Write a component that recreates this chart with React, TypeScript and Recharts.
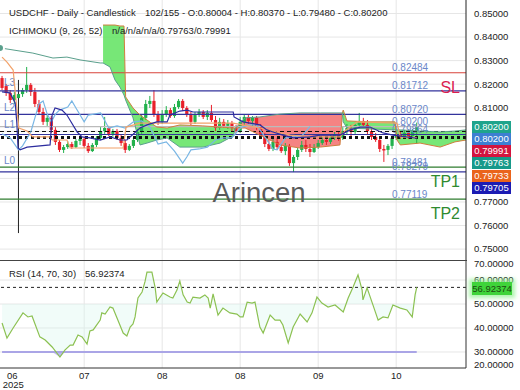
import {
  Area,
  Bar,
  CartesianGrid,
  ComposedChart,
  Line,
  ReferenceLine,
  XAxis,
  YAxis,
} from "recharts";

type Ohlc = [number, number, number, number];
type Pt = [number, number];
type CloudPt = [number, number, number];

const FONT = '"Liberation Sans", Arial, sans-serif';

// open, high, low, close per session
const candlesJunJul: Ohlc[] = [
  [0.8226, 0.8235, 0.8175, 0.8184], [0.8192, 0.8201, 0.815, 0.8163],
  [0.8163, 0.8175, 0.812, 0.8133], [0.8133, 0.8167, 0.8116, 0.8154],
  [0.8141, 0.8218, 0.7568, 0.8158], [0.8158, 0.8184, 0.8146, 0.8175],
  [0.8175, 0.8273, 0.8163, 0.8197], [0.8197, 0.8205, 0.815, 0.8167],
  [0.8167, 0.8184, 0.8103, 0.8116], [0.8116, 0.8133, 0.8069, 0.8082],
  [0.8082, 0.8099, 0.8027, 0.804], [0.804, 0.8069, 0.8023, 0.8057],
  [0.8057, 0.8065, 0.7993, 0.8006], [0.8006, 0.8018, 0.7942, 0.7955],
  [0.7955, 0.7963, 0.7912, 0.7921], [0.7921, 0.7942, 0.7908, 0.7933],
  [0.7933, 0.7959, 0.7925, 0.7946], [0.7946, 0.7955, 0.7925, 0.7933],
  [0.7933, 0.7967, 0.7929, 0.7959], [0.7959, 0.798, 0.7942, 0.7967],
  [0.7967, 0.7976, 0.7929, 0.7938], [0.7938, 0.795, 0.7908, 0.7916],
  [0.7916, 0.795, 0.7912, 0.7942], [0.7942, 0.798, 0.7933, 0.7972],
  [0.7972, 0.8018, 0.7963, 0.8001], [0.8001, 0.8061, 0.7989, 0.8014],
  [0.8014, 0.8023, 0.798, 0.7989], [0.7989, 0.801, 0.7976, 0.8001],
  [0.8001, 0.801, 0.7963, 0.7972], [0.7972, 0.7984, 0.7938, 0.795],
  [0.795, 0.7963, 0.7908, 0.7921], [0.7921, 0.7946, 0.7916, 0.7938],
  [0.7938, 0.7972, 0.7929, 0.7963], [0.7963, 0.801, 0.7955, 0.7997],
];
const candlesJulAug: Ohlc[] = [
  [0.7997, 0.8073, 0.7989, 0.8057], [0.8057, 0.8133, 0.8048, 0.8116],
  [0.8116, 0.815, 0.8099, 0.8129], [0.8129, 0.8175, 0.8061, 0.8073],
  [0.8073, 0.8086, 0.8027, 0.804], [0.804, 0.809, 0.8031, 0.8073],
  [0.8073, 0.8107, 0.8061, 0.809], [0.809, 0.8099, 0.8057, 0.8065],
  [0.8065, 0.8116, 0.8057, 0.8103], [0.8103, 0.8137, 0.8095, 0.8129],
  [0.8129, 0.8137, 0.8086, 0.8099], [0.8099, 0.8107, 0.8061, 0.8069],
  [0.8069, 0.8082, 0.8027, 0.804], [0.804, 0.8082, 0.8031, 0.8069],
  [0.8069, 0.8095, 0.8061, 0.8082], [0.8082, 0.809, 0.8052, 0.8061],
  [0.8061, 0.809, 0.8048, 0.8078], [0.8078, 0.8112, 0.804, 0.8048],
  [0.8048, 0.8065, 0.8001, 0.8014], [0.8014, 0.8057, 0.8006, 0.804],
  [0.804, 0.8052, 0.8014, 0.8023], [0.8023, 0.8048, 0.801, 0.8035],
  [0.8035, 0.8044, 0.8001, 0.8014], [0.8014, 0.8027, 0.7993, 0.8001],
  [0.8001, 0.8061, 0.7993, 0.804], [0.804, 0.8073, 0.8027, 0.8061],
  [0.8061, 0.8069, 0.8031, 0.8044], [0.8044, 0.8065, 0.8023, 0.8057],
  [0.8057, 0.8065, 0.8006, 0.8018], [0.8018, 0.8031, 0.7967, 0.798],
  [0.798, 0.7993, 0.7933, 0.7946], [0.7946, 0.7963, 0.7916, 0.7925],
  [0.7925, 0.7967, 0.7916, 0.7955], [0.7955, 0.7972, 0.7921, 0.7933],
];
const candlesAugOct: Ohlc[] = [
  [0.7933, 0.7946, 0.7908, 0.7916], [0.7916, 0.795, 0.7899, 0.7938],
  [0.7938, 0.7946, 0.7853, 0.7865], [0.7865, 0.7899, 0.7827, 0.7891],
  [0.7891, 0.7929, 0.7878, 0.7921], [0.7921, 0.7959, 0.7912, 0.7942],
  [0.7942, 0.7963, 0.7912, 0.7925], [0.7925, 0.7946, 0.7891, 0.7912],
  [0.7912, 0.7946, 0.7908, 0.7933], [0.7933, 0.7963, 0.7925, 0.795],
  [0.795, 0.7976, 0.7942, 0.7963], [0.7963, 0.7976, 0.7942, 0.7955],
  [0.7955, 0.7984, 0.7946, 0.7972], [0.7972, 0.7997, 0.7963, 0.7984],
  [0.7984, 0.8001, 0.7959, 0.7972], [0.7972, 0.8018, 0.7963, 0.8001],
  [0.8001, 0.8031, 0.7984, 0.8014], [0.8014, 0.8027, 0.7976, 0.7997],
  [0.7997, 0.8035, 0.7989, 0.8027], [0.8027, 0.8078, 0.8014, 0.8044],
  [0.8044, 0.8057, 0.8018, 0.8027], [0.8027, 0.8048, 0.7984, 0.8001],
  [0.8001, 0.8014, 0.7963, 0.7976], [0.7976, 0.7993, 0.7955, 0.7963],
  [0.7963, 0.7972, 0.7912, 0.7925], [0.7925, 0.7942, 0.787, 0.7921],
  [0.7921, 0.7946, 0.7899, 0.7938], [0.7938, 0.798, 0.7925, 0.7972],
  [0.7972, 0.7997, 0.7963, 0.7989], [0.7989, 0.8001, 0.7967, 0.7976],
  [0.7976, 0.8006, 0.7967, 0.7993], [0.7993, 0.8006, 0.7967, 0.798],
  [0.798, 0.801, 0.7972, 0.8], [0.80004, 0.8037, 0.7948, 0.802],
];

// ichimoku lines, [bar index, price]
const tenkanPts: Pt[] = [
  [0, 0.8167], [1.9, 0.8163], [3.2, 0.812], [3.6, 0.8035], [3.9, 0.7929],
  [4.4, 0.7921], [6.1, 0.7933], [11.7, 0.7942], [12.2, 0.8069], [12.9, 0.8099],
  [14.6, 0.809], [15.8, 0.8069], [18.3, 0.7997], [19.5, 0.7976], [21.4, 0.7972],
  [23.9, 0.7963], [26.3, 0.7976], [28.7, 0.7963], [30.4, 0.7963], [33.6, 0.8014],
  [35.3, 0.8027], [37.7, 0.804], [40.2, 0.804], [40.9, 0.8069], [43.3, 0.8086],
  [45.1, 0.809], [46.5, 0.8082], [56.3, 0.8082], [56.5, 0.8061], [58.7, 0.804],
  [60.4, 0.8035], [62.8, 0.8027], [64.5, 0.8006], [66, 0.7997], [68.4, 0.7984],
  [70.9, 0.7972], [75, 0.7976], [77.5, 0.7984], [82.3, 0.7984], [84.8, 0.8006],
  [87.2, 0.8018], [89.6, 0.8018], [92.8, 0.7993], [95.2, 0.7984], [101, 0.79705],
];
const kijunPts: Pt[] = [
  [0, 0.8315], [1.2, 0.8294], [2.7, 0.826], [3.4, 0.8133], [4.1, 0.8014],
  [6.1, 0.8001], [7.5, 0.7976], [11.7, 0.7976], [12.2, 0.7963], [15.8, 0.7963],
  [16.6, 0.7929], [29.5, 0.7929], [30.2, 0.8018], [33.6, 0.8035], [56.3, 0.8035],
  [62.8, 0.8014], [70.2, 0.7984], [75, 0.7976], [82.3, 0.7976], [83.5, 0.8001],
  [86.5, 0.804], [96.2, 0.8035], [97, 0.7976], [101, 0.79733],
];
const chikouPts: Pt[] = [
  [0, 0.7989], [2, 0.7972], [4, 0.7921], [5, 0.7938], [7, 0.7997], [8, 0.8057],
  [9, 0.8116], [10, 0.8129], [11, 0.8073], [12, 0.804], [13, 0.8073], [14, 0.809],
  [16, 0.8103], [17, 0.8129], [18, 0.8099], [20, 0.804], [21, 0.8069], [24, 0.8078],
  [26, 0.8014], [28, 0.8023], [30, 0.8014], [32, 0.804], [34, 0.8044], [36, 0.8018],
  [38, 0.7946], [40, 0.7955], [42, 0.7916], [44, 0.7865], [45, 0.7891], [46, 0.7921],
  [48, 0.7925], [50, 0.7933], [52, 0.7963], [54, 0.7972], [56, 0.7972], [58, 0.8014],
  [60, 0.8027], [62, 0.8027], [64, 0.7976], [66, 0.7925], [67, 0.7921], [69, 0.7972],
  [71, 0.7976], [73, 0.798], [75, 0.802],
];
const spanBLead: Pt[] = [
  [-0.5, 0.8354], [7.5, 0.8332], [12.4, 0.8311], [15.8, 0.8315], [19, 0.8303],
  [23.9, 0.829],
];
// cloud, [bar index, span A, span B]
const cloudGreenEarly: CloudPt[] = [
  [24.6, 0.8451, 0.829], [26.3, 0.8451, 0.8273], [27.5, 0.8451, 0.8218],
  [28.7, 0.8447, 0.8188], [29.7, 0.8447, 0.8154], [30.1, 0.8146, 0.8133],
  [31.9, 0.8099, 0.8057], [33.6, 0.8069, 0.7942], [35.3, 0.8048, 0.795],
  [37.7, 0.8018, 0.7963], [40.2, 0.8014, 0.7972], [43.3, 0.8027, 0.7933],
  [48.9, 0.8023, 0.7933], [53.1, 0.8018, 0.795], [56.3, 0.8014, 0.798],
  [56.9, 0.8014, 0.8014],
];
const cloudRed: CloudPt[] = [
  [56.9, 0.8014, 0.8014], [59.2, 0.8014, 0.8057], [62.8, 0.7984, 0.8061],
  [67.7, 0.7942, 0.8073], [72.6, 0.7929, 0.8078], [77.5, 0.7933, 0.8078],
  [82.3, 0.7942, 0.8078], [82.9, 0.8078, 0.8078],
];
const cloudGreenLate: CloudPt[] = [
  [82.9, 0.8078, 0.8078], [83.1, 0.809, 0.804], [84, 0.8044, 0.8014],
  [89.6, 0.804, 0.801], [95.7, 0.804, 0.8006], [96.2, 0.7963, 0.8006],
  [97, 0.7942, 0.8006], [101.8, 0.795, 0.8001], [106.7, 0.7933, 0.7997],
  [110.3, 0.7955, 0.8001], [113, 0.7963, 0.8006],
];

// RSI(14), [bar index, value]
const rsiPts: Pt[] = [
  [0, 42.1], [1.2, 35.8], [2.7, 40], [5.1, 46.3], [6.3, 44.6], [7.3, 45],
  [9.2, 36.3], [10.5, 35], [12.2, 32.1], [14.1, 27.9], [15.3, 30.8], [16.6, 32.9],
  [17.3, 32.9], [18.5, 37.1], [19.5, 36.3], [20.7, 33.3], [21.4, 38.8], [22.2, 39.2],
  [23.9, 43.3], [24.3, 46.3], [25.1, 45.8], [26.3, 48.8], [27, 48.3], [28.2, 43.3],
  [29.5, 37.9], [30.4, 36.7], [31.2, 40.4], [31.9, 41.7], [32.4, 44.6], [33.1, 52.5],
  [34.1, 55], [34.8, 59.2], [35.3, 63.3], [36.5, 63.3], [37.3, 56.7], [37.7, 50.8],
  [38.5, 52.9], [39.2, 54.6], [40.9, 52.9], [41.6, 52.5], [42.6, 55.8], [43.3, 59.6],
  [44.1, 53.8], [45.1, 50.8], [45.8, 50.4], [46.5, 52.9], [48.2, 52.5], [49.4, 53.8],
  [50.2, 52.5], [50.7, 48.3], [51.4, 54.2], [52.6, 45.4], [53.8, 48.3], [55.5, 46.3],
  [57.2, 45.8], [58, 44.6], [58.7, 44.6], [59.7, 50.8], [60.9, 50.4], [61.6, 50.8],
  [62.8, 40.4], [63.6, 37.9], [65.3, 45.4], [66.5, 43.3], [67.7, 43.3], [68.4, 41.25],
  [69.7, 33.75], [70.9, 40.4], [72.6, 45.8], [74.3, 42.5], [75.5, 46.3], [76.7, 52.9],
  [77.9, 50.4], [79.4, 48.75], [81.1, 49.6], [83.1, 46.7], [84.3, 52.5], [85.5, 57.1],
  [86.7, 62.1], [87.7, 55.8], [87.9, 51.7], [88.9, 56.7], [90.1, 50.8], [91.6, 43.3],
  [92.8, 44.6], [94, 44.2], [95.2, 49.6], [97, 48.3], [98.6, 47.5], [99.9, 44.6],
  [100.6, 53.8], [101, 56.92374],
];

const priceGrid = [0.75, 0.76, 0.77, 0.78, 0.79, 0.8, 0.81, 0.82, 0.83, 0.84, 0.85];
// 0.78-0.80 labels sit under the value tags on the right axis
const priceTicks = [0.75, 0.76, 0.77, 0.81, 0.82, 0.83, 0.84, 0.85];
const rsiTicks = [30, 40, 50, 60];
const rsiEdgeLabels = ["70.00000", "20.00000"];
const monthTicks = [2.5, 20, 39, 58, 77, 96];
const monthLabels = ["06", "07", "08", "08", "09", "10"];
const gridIdx = [20, 39, 58, 77, 96];

const levelValues = [0.82484, 0.81712, 0.8072, 0.802, 0.79864, 0.78481, 0.78279, 0.77119];
const levelColors = ["#d8433b", "#33339c", "#33339c", "#bbbbbb", "#33339c", "#2f7d2f", "#33339c", "#2f7d2f"];
const sideTags = [
  { v: 0.82484, text: "SL", color: "#db1e50" },
  { v: 0.78481, text: "TP1", color: "#2f8a2f" },
  { v: 0.77119, text: "TP2", color: "#2f8a2f" },
];
const leftTags = [
  { v: 0.8209, text: "L3" },
  { v: 0.8099, text: "L2" },
  { v: 0.8027, text: "L1" },
  { v: 0.7874, text: "L0" },
];
const axisTags = [
  { text: "0.80200", bg: "#1fa48c" },
  { text: "0.80200", bg: "#3d7fd2" },
  { text: "0.79991", bg: "#d3143e" },
  { text: "0.79763", bg: "#17998a" },
  { text: "0.79733", bg: "#ea641c" },
  { text: "0.79705", bg: "#1b1bb3" },
];

const X_DOMAIN: [number, number] = [-0.5, 113];
const PRICE_DOMAIN: [number, number] = [0.74537, 0.85573];
const RSI_DOMAIN: [number, number] = [23.33, 67.92];

const candles = [...candlesJunJul, ...candlesJulAug, ...candlesAugOct];
const candleRows = candles.map(([o, h, l, c], j) => ({ j, o, h, l, c, range: [l, h] }));
const toRows = (pts: Pt[]) => pts.map(([j, v]) => ({ j, v }));
const bandRows = (pts: CloudPt[]) =>
  pts.map(([j, a, b]) => ({ j, band: [Math.min(a, b), Math.max(a, b)] }));
const allCloud = [...cloudGreenEarly, ...cloudRed, ...cloudGreenLate];
const spanARows = allCloud.map(([j, a]) => ({ j, v: a }));
const spanBRows = [...toRows(spanBLead), ...allCloud.map(([j, , b]) => ({ j, v: b }))];
const rsiRows = rsiPts.map(([j, v]) => ({
  j,
  v,
  band: [50, v],
  low: [Math.min(v, 30), 30],
}));

function Candle(props: any) {
  const { x, y, width, height, payload } = props;
  if (!payload) return null;
  const { o, h, l, c } = payload;
  const top = Math.min(y, y + height);
  const span = Math.abs(height);
  const py = (p: number) => top + ((h - p) / (h - l)) * span;
  const up = c >= o;
  const color = up ? "#22b14c" : "#e8202a";
  const bodyTop = py(Math.max(o, c));
  const bodyH = Math.max(1.5, py(Math.min(o, c)) - bodyTop);
  const cx = x + width / 2;
  return (
    <g>
      <line x1={cx} x2={cx} y1={top} y2={top + span} stroke={l < 0.77 ? "#222" : color} strokeWidth={1} />
      <rect x={cx - 1.6} y={bodyTop} width={3.2} height={bodyH} fill={color} />
    </g>
  );
}

function PriceTick({ x, y, payload }: any) {
  return (
    <text x={x} y={y} dy="0.35em" fontSize={9.5} fill="#222" fontFamily={FONT}>
      {Number(payload.value).toFixed(5)}
    </text>
  );
}

function MonthTick({ x, y, payload }: any) {
  const k = monthTicks.indexOf(payload.value);
  return (
    <g fontSize={9.5} fill="#222" fontFamily={FONT}>
      <text x={x} y={y} dy="0.71em" textAnchor="middle">
        {monthLabels[k]}
      </text>
      {k === 0 ? (
        <text x={x + 1} y={y + 9.5} dy="0.71em" textAnchor="middle">
          2025
        </text>
      ) : null}
    </g>
  );
}

function LevelLabel({ viewBox, text }: any) {
  if (!viewBox) return null;
  return (
    <text
      x={viewBox.x + viewBox.width - 74}
      y={viewBox.y - 1.5}
      fontSize={10}
      fill="#6b87c9"
      fontFamily={FONT}
    >
      {text}
    </text>
  );
}

function SideLabel({ viewBox, text, color }: any) {
  if (!viewBox) return null;
  return (
    <text
      x={viewBox.x + viewBox.width - 6}
      y={viewBox.y + 20}
      textAnchor="end"
      fontSize={16}
      fill={color}
      fontFamily={FONT}
    >
      {text}
    </text>
  );
}

function LeftLabel({ viewBox, text }: any) {
  if (!viewBox) return null;
  return (
    <text x={viewBox.x + 4} y={viewBox.y} dy="0.35em" fontSize={10} fill="#6b87c9" fontFamily={FONT}>
      {text}
    </text>
  );
}

export default function App() {
  return (
    <div
      style={{
        position: "absolute",
        left: 0,
        top: 0,
        width: 520,
        height: 390,
        background: "#fff",
        overflow: "hidden",
        fontFamily: FONT,
      }}
    >
      <div style={{ position: "absolute", left: 0, top: 0 }}>
        <ComposedChart
          width={520}
          height={260}
          data={candleRows}
          margin={{ top: 0, right: 0, bottom: 0, left: 0 }}
        >
          <CartesianGrid
            stroke="#e6e6e6"
            horizontalValues={priceGrid}
            verticalValues={gridIdx}
          />
          <XAxis hide type="number" dataKey="j" domain={X_DOMAIN} allowDataOverflow />
          <YAxis
            orientation="right"
            width={54}
            domain={PRICE_DOMAIN}
            ticks={priceTicks}
            interval={0}
            allowDataOverflow
            tickLine={false}
            axisLine={{ stroke: "#222" }}
            tick={<PriceTick />}
          />
          <Area
            data={bandRows(cloudGreenEarly)}
            dataKey="band"
            fill="#5fe35f"
            fillOpacity={0.85}
            stroke="none"
            isAnimationActive={false}
          />
          <Area
            data={bandRows(cloudRed)}
            dataKey="band"
            fill="#f26464"
            fillOpacity={0.8}
            stroke="none"
            isAnimationActive={false}
          />
          <Area
            data={bandRows(cloudGreenLate)}
            dataKey="band"
            fill="#5fe35f"
            fillOpacity={0.85}
            stroke="none"
            isAnimationActive={false}
          />
          {levelValues.map((v, k) => (
            <ReferenceLine
              key={`lv${k}`}
              y={v}
              stroke={levelColors[k]}
              strokeWidth={1.2}
              label={<LevelLabel text={v.toFixed(5)} />}
            />
          ))}
          <ReferenceLine y={0.79991} stroke="#111" strokeDasharray="4 3" />
          <ReferenceLine y={0.79733} stroke="#111" strokeWidth={3} strokeDasharray="3 3" />
          {sideTags.map((t) => (
            <ReferenceLine
              key={t.text}
              y={t.v}
              stroke="none"
              label={<SideLabel text={t.text} color={t.color} />}
            />
          ))}
          {leftTags.map((t) => (
            <ReferenceLine key={t.text} y={t.v} stroke="none" label={<LeftLabel text={t.text} />} />
          ))}
          <Line
            data={spanARows}
            dataKey="v"
            stroke="#cf7e3e"
            dot={false}
            strokeWidth={1}
            isAnimationActive={false}
          />
          <Line
            data={spanBRows}
            dataKey="v"
            stroke="#5a9f8c"
            dot={false}
            strokeWidth={1}
            isAnimationActive={false}
          />
          <Line
            data={toRows(chikouPts)}
            dataKey="v"
            stroke="#79b6e4"
            dot={false}
            strokeWidth={1.2}
            isAnimationActive={false}
          />
          <Line
            data={toRows(kijunPts)}
            dataKey="v"
            stroke="#f2a26a"
            dot={false}
            strokeWidth={1.2}
            isAnimationActive={false}
          />
          <Line
            data={toRows(tenkanPts)}
            dataKey="v"
            stroke="#2d2d9f"
            dot={false}
            strokeWidth={1.2}
            isAnimationActive={false}
          />
          <Bar dataKey="range" barSize={3} shape={<Candle />} isAnimationActive={false} />
        </ComposedChart>
      </div>

      <div style={{ position: "absolute", left: 0, top: 258 }}>
        <ComposedChart
          width={520}
          height={132}
          data={rsiRows}
          margin={{ top: 3, right: 0, bottom: 0, left: 0 }}
        >
          <CartesianGrid stroke="#e6e6e6" horizontalValues={rsiTicks} verticalValues={gridIdx} />
          <XAxis
            type="number"
            dataKey="j"
            domain={X_DOMAIN}
            allowDataOverflow
            ticks={monthTicks}
            interval={0}
            height={22}
            tickSize={2}
            tickLine={false}
            axisLine={{ stroke: "#333" }}
            tick={<MonthTick />}
          />
          <YAxis
            orientation="right"
            width={54}
            domain={RSI_DOMAIN}
            ticks={rsiTicks}
            interval={0}
            allowDataOverflow
            tickLine={false}
            axisLine={{ stroke: "#333" }}
            tick={<PriceTick />}
          />
          <Area
            dataKey="band"
            fill="#d6f6ee"
            fillOpacity={0.35}
            stroke="none"
            isAnimationActive={false}
          />
          <Area dataKey="low" fill="#9a8cf0" stroke="none" isAnimationActive={false} />
          <ReferenceLine
            segment={[
              { x: 0, y: 30 },
              { x: 101, y: 30 },
            ]}
            stroke="#aaa5e6"
            strokeWidth={2}
          />
          <ReferenceLine y={56.92374} stroke="#222" strokeDasharray="3 3" />
          <Line
            dataKey="v"
            stroke="#8cc152"
            dot={false}
            strokeWidth={1.2}
            isAnimationActive={false}
          />
        </ComposedChart>
      </div>

      <div style={{ position: "absolute", left: 0, top: 260, width: 467, height: 1, background: "#444" }} />

      <svg
        width={520}
        height={390}
        style={{ position: "absolute", left: 0, top: 0, pointerEvents: "none" }}
        fontFamily={FONT}
      >
        <text x={9} y={16} fontSize={9.5} fill="#222">
          USDCHF - Daily - Candlestick
        </text>
        <text x={145} y={16} fontSize={9.5} fill="#222">
          102/155 - O:0.80004 - H:0.80370 - L:0.79480 - C:0.80200
        </text>
        <text x={9} y={33.5} fontSize={9.5} fill="#222">
          ICHIMOKU (9, 26, 52)
        </text>
        <text x={112} y={33.5} fontSize={9.5} fill="#222">
          n/a/n/a/n/a/0.79763/0.79991
        </text>
        <text x={259} y={202} fontSize={27.5} fill="#5a5a5a" textAnchor="middle">
          Arincen
        </text>
        <text x={9} y={276.5} fontSize={9.5} fill="#222">
          RSI (14, 70, 30)
        </text>
        <text x={85} y={276.5} fontSize={9.5} fill="#222">
          56.92374
        </text>
        <text x={474} y={264} dy="0.35em" fontSize={9.5} fill="#222">
          {rsiEdgeLabels[0]}
        </text>
        <text x={474} y={365} dy="0.35em" fontSize={9.5} fill="#222">
          {rsiEdgeLabels[1]}
        </text>
      </svg>

      {axisTags.map((t, k) => (
        <div
          key={k}
          style={{
            position: "absolute",
            left: 472,
            top: 120.5 + k * 12.3,
            width: 39,
            height: 12,
            background: t.bg,
            color: "#fff",
            fontSize: 9.5,
            lineHeight: "12px",
            textAlign: "center",
          }}
        >
          {t.text}
        </div>
      ))}
      <div
        style={{
          position: "absolute",
          left: 472,
          top: 281.5,
          width: 40,
          height: 13,
          background: "#3fd43a",
          color: "#1d4a10",
          fontSize: 9.5,
          lineHeight: "13px",
          textAlign: "center",
          boxShadow: "0 0 4px 3px rgba(140,240,140,0.7)",
        }}
      >
        56.92374
      </div>
    </div>
  );
}
